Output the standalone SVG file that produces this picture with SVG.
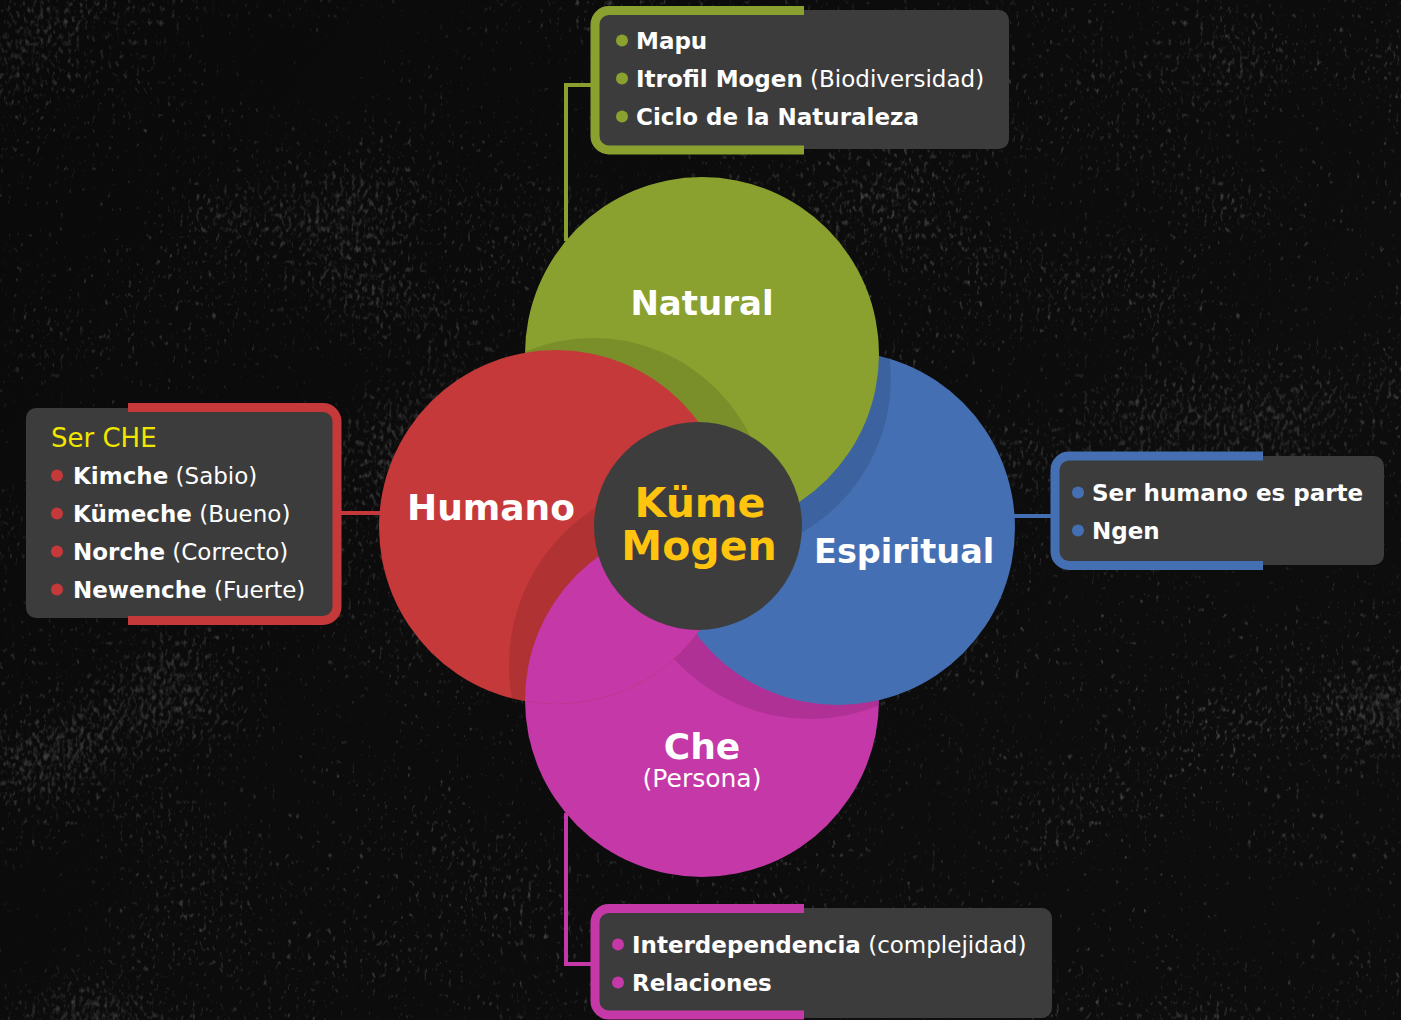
<svg xmlns="http://www.w3.org/2000/svg" xmlns:xlink="http://www.w3.org/1999/xlink" width="1401" height="1020" viewBox="0 0 1401 1020">
<defs>
<style>
.t{font-family:'DejaVu Sans',Verdana,sans-serif;fill:#ffffff}
.b{font-weight:bold}
.r{font-weight:normal}
.li{font-size:23px}
.ctr{font-size:41px;font-weight:bold;fill:#ffc40e}
.box{fill:#3c3c3c}
.frame{fill:none;stroke-width:9}
.conn{fill:none;stroke-width:4}
.shadow{fill:#000000;fill-opacity:0.11}
.green{fill:#8aa12f}.red{fill:#c6393a}.blue{fill:#4470b3}.mag{fill:#c538a8}
.sg{stroke:#8aa12f}.sr{stroke:#c6393a}.sb{stroke:#4470b3}.sm{stroke:#c538a8}
</style>
<filter id="grunge" filterUnits="userSpaceOnUse" x="0" y="0" width="1401" height="1020" color-interpolation-filters="sRGB">
<feTurbulence type="fractalNoise" baseFrequency="0.004 0.006" numOctaves="2" seed="11" result="big"/>
<feTurbulence type="fractalNoise" baseFrequency="0.25 0.15" numOctaves="2" seed="2" result="fine"/>
<feComposite in="fine" in2="big" operator="arithmetic" k1="0" k2="0.8" k3="0.55" k4="-0.34" result="mix"/>
<feColorMatrix in="mix" type="matrix" values="0 0 0 0 0.27  0 0 0 0 0.27  0 0 0 0 0.27  2.2 0 0 0 -0.45"/>
</filter>
<linearGradient id="tone" x1="0" y1="0" x2="1" y2="0.6">
<stop offset="0" stop-color="#000" stop-opacity="0.25"/>
<stop offset="0.5" stop-color="#000" stop-opacity="0.1"/>
<stop offset="1" stop-color="#000" stop-opacity="0"/>
</linearGradient>
<circle id="cGreen" cx="702" cy="354" r="177"/>
<circle id="cRed" cx="556" cy="527" r="177"/>
<circle id="cBlue" cx="838" cy="528" r="177"/>
<circle id="cMag" cx="702" cy="700" r="177"/>
<clipPath id="clipGreen"><use xlink:href="#cGreen"/></clipPath>
<clipPath id="clipRed"><use xlink:href="#cRed"/></clipPath>
<clipPath id="clipBlue"><use xlink:href="#cBlue"/></clipPath>
<clipPath id="clipMag"><use xlink:href="#cMag"/></clipPath>
</defs>

<g id="background">
<rect x="0" y="0" width="1401" height="1020" fill="#0d0d0d"/>
<rect x="0" y="0" width="1401" height="1020" filter="url(#grunge)"/>
<rect x="0" y="0" width="1401" height="1020" fill="url(#tone)"/>
</g>

<g id="connectors">
<path class="conn sg" d="M566,241 V85 H592"/>
<path class="conn sr" d="M340,513 H380"/>
<path class="conn sb" d="M1013,516 H1052"/>
<path class="conn sm" d="M566,813 V964 H592"/>
</g>

<g id="node-che">
<use xlink:href="#cMag" class="mag"/>
<text class="t b" x="702" y="759" text-anchor="middle" font-size="36">Che</text>
<text class="t r" x="702" y="787" text-anchor="middle" font-size="25">(Persona)</text>
</g>

<g id="node-espiritual">
<circle class="shadow" cx="810" cy="535" r="184" clip-path="url(#clipMag)"/>
<use xlink:href="#cBlue" class="blue"/>
<text class="t b" x="814" y="563" font-size="33.5">Espiritual</text>
</g>

<g id="node-natural">
<circle class="shadow" cx="712" cy="378" r="179" clip-path="url(#clipBlue)"/>
<use xlink:href="#cGreen" class="green"/>
<text class="t b" x="702" y="315" text-anchor="middle" font-size="34">Natural</text>
</g>

<g id="node-humano">
<circle class="shadow" cx="593" cy="513" r="175" clip-path="url(#clipGreen)"/>
<use xlink:href="#cRed" class="red"/>
<text class="t b" x="407" y="520" font-size="36">Humano</text>
</g>

<g id="che-overlap">
<circle class="shadow" cx="695" cy="665" r="186" clip-path="url(#clipRed)"/>
<use xlink:href="#cMag" class="mag" clip-path="url(#clipRed)"/>
</g>

<g id="node-center">
<circle cx="698" cy="526" r="104" fill="#3d3d3d"/>
<text class="t ctr" x="700" y="517" text-anchor="middle">Küme</text>
<text class="t ctr" x="699" y="560" text-anchor="middle">Mogen</text>
</g>

<g id="box-natural">
<rect class="box" x="599" y="10" width="410" height="139" rx="10"/>
<path class="frame sg" d="M804,10.5 H609 A14,14 0 0 0 595,24.5 V136 A14,14 0 0 0 609,150 H804"/>
<circle class="green" cx="622" cy="40.5" r="6"/>
<circle class="green" cx="622" cy="78.5" r="6"/>
<circle class="green" cx="622" cy="116.5" r="6"/>
<text class="t li" x="636" y="48.5"><tspan class="b">Mapu</tspan></text>
<text class="t li" x="636" y="86.5"><tspan class="b">Itrofil Mogen</tspan> <tspan class="r">(Biodiversidad)</tspan></text>
<text class="t li" x="636" y="124.5"><tspan class="b">Ciclo de la Naturaleza</tspan></text>
</g>

<g id="box-humano">
<rect class="box" x="26" y="408" width="307" height="210" rx="10"/>
<path class="frame sr" d="M128,407.5 H323 A14,14 0 0 1 337,421.5 V606.5 A14,14 0 0 1 323,620.5 H128"/>
<text class="t" x="51" y="447" font-size="26" style="fill:#f2e600">Ser CHE</text>
<circle class="red" cx="57" cy="475.5" r="6"/>
<circle class="red" cx="57" cy="513.5" r="6"/>
<circle class="red" cx="57" cy="551.5" r="6"/>
<circle class="red" cx="57" cy="589.5" r="6"/>
<text class="t li" x="73" y="483.5"><tspan class="b">Kimche</tspan> <tspan class="r">(Sabio)</tspan></text>
<text class="t li" x="73" y="521.5"><tspan class="b">Kümeche</tspan> <tspan class="r">(Bueno)</tspan></text>
<text class="t li" x="73" y="559.5"><tspan class="b">Norche</tspan> <tspan class="r">(Correcto)</tspan></text>
<text class="t li" x="73" y="597.5"><tspan class="b">Newenche</tspan> <tspan class="r">(Fuerte)</tspan></text>
</g>

<g id="box-espiritual">
<rect class="box" x="1059" y="456" width="325" height="109" rx="10"/>
<path class="frame sb" d="M1263,456 H1069 A14,14 0 0 0 1055,470 V551.5 A14,14 0 0 0 1069,565.5 H1263"/>
<circle class="blue" cx="1078" cy="492.5" r="6"/>
<circle class="blue" cx="1078" cy="530.5" r="6"/>
<text class="t li" x="1092" y="500.5"><tspan class="b">Ser humano es parte</tspan></text>
<text class="t li" x="1092" y="538.5"><tspan class="b">Ngen</tspan></text>
</g>

<g id="box-che">
<rect class="box" x="599" y="908" width="453" height="110" rx="10"/>
<path class="frame sm" d="M804,908.5 H609 A14,14 0 0 0 595,922.5 V1001 A14,14 0 0 0 609,1015 H804"/>
<circle class="mag" cx="618" cy="944.5" r="6"/>
<circle class="mag" cx="618" cy="982.5" r="6"/>
<text class="t li" x="632" y="952.5"><tspan class="b">Interdependencia</tspan> <tspan class="r">(complejidad)</tspan></text>
<text class="t li" x="632" y="990.5"><tspan class="b">Relaciones</tspan></text>
</g>
</svg>
